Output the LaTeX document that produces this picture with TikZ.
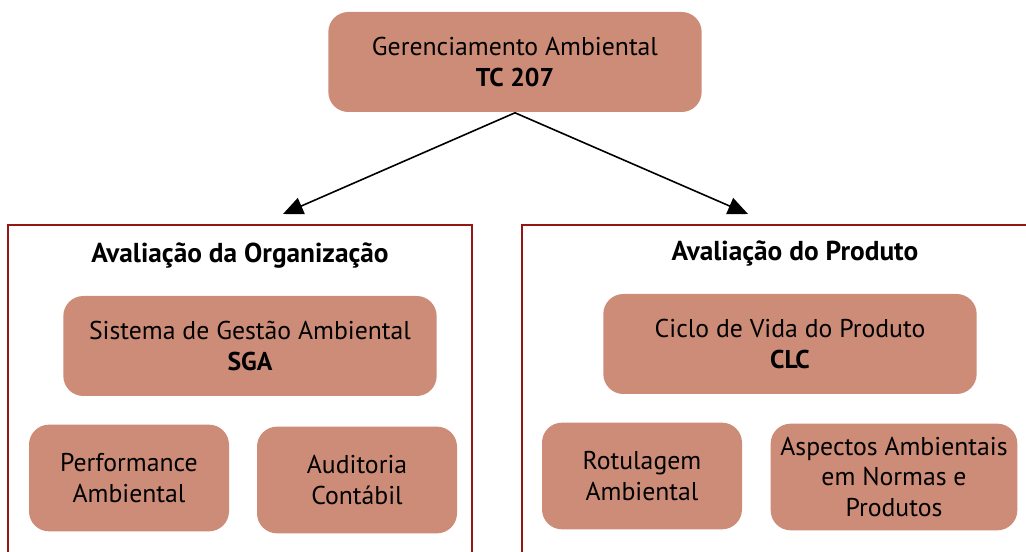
\documentclass[tikz,border=0pt]{standalone}
\usepackage{fontspec}
\setmainfont{PT Sans}
\usepackage{tikz}
\usetikzlibrary{arrows.meta}

\definecolor{boxfill}{RGB}{205,140,119}
\definecolor{framered}{RGB}{150,22,22}

\begin{document}
\begin{tikzpicture}[x=0.75pt,y=-0.75pt,>={Triangle[length=15pt,width=13pt]},line width=1.2pt,
  box/.style={rectangle,rounded corners=15pt,fill=boxfill,align=center,inner sep=0pt,font=\fontsize{19.3}{23}\selectfont},
  bigbox/.style={box,minimum width=280pt,minimum height=75pt},
  smallbox/.style={box,minimum width=150pt,minimum height=80pt},
  widebox/.style={box,minimum width=185pt,minimum height=80pt},
  title/.style={font=\fontsize{20.5}{24}\selectfont\bfseries},
  frame/.style={draw=framered,line width=1.5pt}]

    \useasboundingbox (0,0) rectangle (1026,552);

    % The frames
    \draw[frame] (8,560) -- (8,225) -- (472,225) -- (472,560);
    \draw[frame] (522,560) -- (522,225) -- (1030,225);

    % The boxes
    \node [bigbox] at (515,62) (TC) {Gerenciamento Ambiental\\\textbf{TC 207}};
    \node [title] at (240,256) (org) {Avaliação da Organização};
    \node [title] at (795,253) (prod) {Avaliação do Produto};
    \node [bigbox] at (250,346) (SGA) {Sistema de Gestão Ambiental\\\textbf{SGA}};
    \node [smallbox] at (129,478) (perf) {Performance\\Ambiental};
    \node [smallbox] at (357,480) (aud) {Auditoria\\Contábil};
    \node [bigbox] at (790,344) (CLC) {Ciclo de Vida do Produto\\\textbf{CLC}};
    \node [smallbox] at (642,476) (rot) {Rotulagem\\Ambiental};
    \node [widebox] at (894,477) (asp) {Aspectos Ambientais\\em Normas e\\Produtos};

    % Arrow ends
    \coordinate (toOrg) at (283,214);
    \coordinate (toProd) at (748,214);

    \path[->]
    (TC.south) edge (toOrg)
    (TC.south) edge (toProd)
    ;

\end{tikzpicture}
\end{document}
